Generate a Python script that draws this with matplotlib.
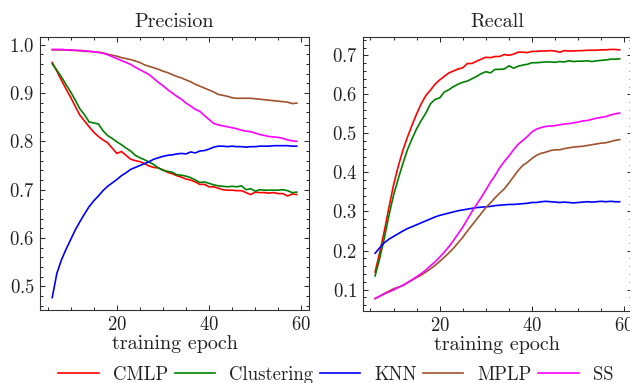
import matplotlib
matplotlib.use("Agg")
import matplotlib.pyplot as plt
from matplotlib.ticker import MultipleLocator

plt.rcParams["font.family"] = ["cmr10", "DejaVu Serif"]
plt.rcParams["axes.formatter.use_mathtext"] = True

epochs = list(range(6, 60))

# Precision
prec_cmlp = [0.963, 0.945, 0.926, 0.908, 0.891, 0.872, 0.854, 0.842, 0.830, 0.819,
             0.810, 0.803, 0.797, 0.786, 0.775, 0.779, 0.771, 0.763, 0.760, 0.758,
             0.754, 0.749, 0.746, 0.745, 0.741, 0.736, 0.733, 0.729, 0.726, 0.722,
             0.720, 0.716, 0.711, 0.711, 0.706, 0.706, 0.703, 0.700, 0.699, 0.699,
             0.698, 0.698, 0.694, 0.690, 0.695, 0.694, 0.694, 0.693, 0.694, 0.692,
             0.692, 0.687, 0.691, 0.690]
prec_clustering = [0.960, 0.947, 0.933, 0.917, 0.902, 0.885, 0.867, 0.855, 0.840, 0.838,
                   0.836, 0.822, 0.812, 0.806, 0.799, 0.793, 0.786, 0.780, 0.771, 0.766,
                   0.762, 0.757, 0.752, 0.745, 0.740, 0.738, 0.736, 0.731, 0.730, 0.728,
                   0.725, 0.720, 0.715, 0.716, 0.713, 0.710, 0.708, 0.707, 0.706, 0.707,
                   0.706, 0.708, 0.700, 0.702, 0.697, 0.700, 0.699, 0.699, 0.699, 0.699,
                   0.700, 0.698, 0.694, 0.695]
prec_knn = [0.477, 0.527, 0.555, 0.577, 0.597, 0.617, 0.634, 0.650, 0.665, 0.677,
            0.687, 0.698, 0.707, 0.714, 0.721, 0.729, 0.735, 0.742, 0.746, 0.750,
            0.754, 0.758, 0.763, 0.766, 0.769, 0.771, 0.772, 0.774, 0.775, 0.774,
            0.778, 0.776, 0.780, 0.781, 0.784, 0.788, 0.790, 0.790, 0.789, 0.790,
            0.789, 0.789, 0.788, 0.789, 0.789, 0.790, 0.790, 0.790, 0.791, 0.791,
            0.791, 0.791, 0.790, 0.790]
prec_mplp = [0.989, 0.989, 0.989, 0.989, 0.988, 0.988, 0.987, 0.986, 0.986, 0.985,
             0.984, 0.983, 0.980, 0.978, 0.976, 0.973, 0.971, 0.969, 0.966, 0.963,
             0.958, 0.955, 0.952, 0.949, 0.945, 0.942, 0.938, 0.934, 0.931, 0.927,
             0.923, 0.918, 0.914, 0.910, 0.906, 0.902, 0.897, 0.895, 0.893, 0.890,
             0.889, 0.889, 0.889, 0.889, 0.888, 0.887, 0.886, 0.885, 0.884, 0.883,
             0.882, 0.881, 0.878, 0.879]
prec_ss = [0.990, 0.990, 0.990, 0.989, 0.989, 0.988, 0.988, 0.987, 0.986, 0.985,
           0.984, 0.982, 0.979, 0.975, 0.971, 0.967, 0.963, 0.959, 0.953, 0.948,
           0.943, 0.938, 0.930, 0.922, 0.915, 0.907, 0.900, 0.893, 0.887, 0.879,
           0.873, 0.866, 0.862, 0.853, 0.845, 0.837, 0.834, 0.832, 0.830, 0.828,
           0.826, 0.823, 0.821, 0.820, 0.817, 0.814, 0.812, 0.810, 0.809, 0.808,
           0.806, 0.803, 0.801, 0.800]

# Recall
rec_cmlp = [0.145, 0.195, 0.250, 0.310, 0.368, 0.415, 0.456, 0.490, 0.521, 0.550,
            0.576, 0.597, 0.611, 0.626, 0.637, 0.646, 0.655, 0.660, 0.665, 0.668,
            0.679, 0.679, 0.685, 0.690, 0.695, 0.694, 0.697, 0.697, 0.702, 0.700,
            0.703, 0.708, 0.708, 0.707, 0.710, 0.710, 0.711, 0.711, 0.712, 0.711,
            0.708, 0.712, 0.711, 0.711, 0.712, 0.712, 0.713, 0.713, 0.713, 0.714,
            0.714, 0.715, 0.715, 0.714]
rec_clustering = [0.135, 0.180, 0.232, 0.290, 0.342, 0.383, 0.422, 0.458, 0.486, 0.512,
                  0.533, 0.552, 0.576, 0.587, 0.591, 0.606, 0.612, 0.620, 0.626, 0.631,
                  0.634, 0.640, 0.646, 0.653, 0.658, 0.655, 0.664, 0.664, 0.665, 0.673,
                  0.667, 0.672, 0.675, 0.677, 0.681, 0.681, 0.682, 0.683, 0.683, 0.682,
                  0.684, 0.683, 0.686, 0.684, 0.685, 0.685, 0.686, 0.684, 0.686, 0.687,
                  0.688, 0.690, 0.690, 0.691]
rec_knn = [0.193, 0.207, 0.220, 0.229, 0.236, 0.243, 0.250, 0.256, 0.261, 0.266,
           0.271, 0.276, 0.281, 0.286, 0.290, 0.293, 0.296, 0.299, 0.302, 0.304,
           0.306, 0.308, 0.310, 0.311, 0.312, 0.313, 0.315, 0.316, 0.317, 0.318,
           0.318, 0.319, 0.320, 0.321, 0.323, 0.323, 0.325, 0.326, 0.325, 0.324,
           0.323, 0.324, 0.323, 0.322, 0.323, 0.324, 0.325, 0.324, 0.325, 0.326,
           0.325, 0.326, 0.325, 0.325]
rec_mplp = [0.077, 0.083, 0.090, 0.096, 0.102, 0.106, 0.110, 0.117, 0.124, 0.131,
            0.137, 0.145, 0.153, 0.162, 0.172, 0.183, 0.194, 0.206, 0.220, 0.234,
            0.250, 0.265, 0.280, 0.295, 0.310, 0.322, 0.335, 0.347, 0.358, 0.373,
            0.389, 0.405, 0.418, 0.426, 0.436, 0.444, 0.449, 0.452, 0.456, 0.458,
            0.458, 0.461, 0.463, 0.465, 0.466, 0.467, 0.469, 0.471, 0.473, 0.475,
            0.476, 0.479, 0.482, 0.484]
rec_ss = [0.077, 0.083, 0.089, 0.094, 0.099, 0.105, 0.111, 0.118, 0.125, 0.133,
          0.141, 0.150, 0.161, 0.171, 0.183, 0.196, 0.210, 0.226, 0.243, 0.260,
          0.280, 0.300, 0.318, 0.336, 0.355, 0.375, 0.392, 0.412, 0.428, 0.442,
          0.458, 0.472, 0.482, 0.492, 0.504, 0.511, 0.515, 0.518, 0.519, 0.520,
          0.522, 0.524, 0.525, 0.527, 0.529, 0.532, 0.533, 0.536, 0.539, 0.541,
          0.543, 0.547, 0.550, 0.552]

labels = ["CMLP", "Clustering", "KNN", "MPLP", "SS"]
colors = ["#ff0000", "#008000", "#0000ff", "#a0522d", "#ff00ff"]
precision = [prec_cmlp, prec_clustering, prec_knn, prec_mplp, prec_ss]
recall = [rec_cmlp, rec_clustering, rec_knn, rec_mplp, rec_ss]


def style_axis(ax):
    ax.xaxis.set_major_locator(MultipleLocator(20))
    ax.xaxis.set_minor_locator(MultipleLocator(5))
    ax.yaxis.set_major_locator(MultipleLocator(0.1))
    ax.yaxis.set_minor_locator(MultipleLocator(0.02))
    ax.tick_params(which="both", direction="in", top=True, right=True,
                   width=0.6, labelsize=13.5, pad=4, labelcolor="#222222")
    ax.tick_params(which="major", length=3.5)
    ax.tick_params(which="minor", length=2)
    for spine in ax.spines.values():
        spine.set_linewidth(0.8)
        spine.set_color("#333333")
    ax.set_xlabel("training epoch", fontsize=14.5, labelpad=1, color="#222222")


fig = plt.figure(figsize=(6.3, 3.83), dpi=100)
ax1 = fig.add_axes([0.0635, 0.1906, 0.427, 0.7128])
ax2 = fig.add_axes([0.576, 0.1880, 0.427, 0.7154])

for series, label, color in zip(precision, labels, colors):
    ax1.plot(epochs, series, color=color, lw=1.2, label=label)
for series, label, color in zip(recall, labels, colors):
    ax2.plot(epochs, series, color=color, lw=1.2)

ax1.set_title("Precision", fontsize=14.5, pad=7.5, color="#222222")
ax2.set_title("Recall", fontsize=14.5, pad=7.5, color="#222222")
style_axis(ax1)
style_axis(ax2)

fig.legend(loc="center", bbox_to_anchor=(0.533, 0.021), ncol=5, frameon=False,
           fontsize=13.5, handlelength=2.15, handletextpad=0.75, columnspacing=0.35,
           borderaxespad=0, borderpad=0, labelcolor="#222222")

fig.savefig("out.png", dpi=100)
